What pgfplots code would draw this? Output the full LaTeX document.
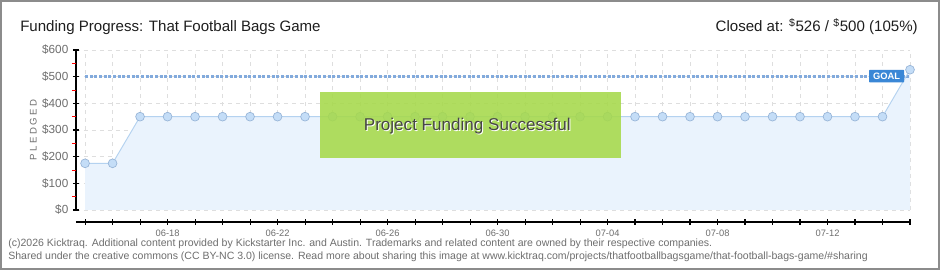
\documentclass[border=0pt]{standalone}
\usepackage{pgfplots}
\pgfplotsset{compat=1.18}
\usepackage{fontspec}
\setmainfont{Liberation Sans}
\definecolor{areafill}{RGB}{234,243,253}
\definecolor{linecol}{RGB}{180,210,240}
\definecolor{markfill}{RGB}{196,221,247}
\definecolor{markdraw}{RGB}{150,180,215}
\definecolor{goalcol}{RGB}{130,170,220}
\definecolor{goalbox}{RGB}{58,135,214}
\definecolor{greenbox}{RGB}{166,217,74}
\definecolor{gridcol}{RGB}{222,222,222}
\definecolor{labgray}{RGB}{110,110,110}
\definecolor{framegray}{RGB}{140,140,140}
\begin{document}
\begin{tikzpicture}[x=1pt,y=1pt]
\useasboundingbox (0,0) rectangle (705,202.5);
\fill[white] (0,0) rectangle (705,202.5);
\draw[line width=1.2pt, framegray] (0.6,0.6) rectangle (704.4,201.9);
\node[inner sep=0pt, anchor=base west, font=\fontsize{11.3}{13}\selectfont, text={rgb,255:red,30;green,30;blue,30}] at (15,179) {Funding Progress: That Football Bags Game};
\node[inner sep=0pt, anchor=base east, font=\fontsize{11.3}{13}\selectfont, text={rgb,255:red,30;green,30;blue,30}] at (688.5,179) {Closed at: \textsuperscript{\$}526 / \textsuperscript{\$}500 (105\%)};
\node[inner sep=0pt, anchor=base west, font=\fontsize{7.9}{9}\selectfont, text=labgray] at (6,17.6) {(c)2026 Kicktraq. Additional content provided by Kickstarter Inc. and Austin. Trademarks and related content are owned by their respective companies.};
\node[inner sep=0pt, anchor=base west, font=\fontsize{7.9}{9}\selectfont, text=labgray] at (6,7.8) {Shared under the creative commons (CC BY-NC 3.0) license. Read more about sharing this image at www.kicktraq.com/projects/thatfootballbagsgame/that-football-bags-game/\#sharing};
\node[rotate=90, font=\fontsize{7.2}{8}\selectfont\addfontfeature{LetterSpace=25}, text=labgray] at (25,105) {PLEDGED};
\begin{axis}[
  at={(57pt,45pt)}, anchor=south west,
  scale only axis, width=625.5pt, height=120pt,
  xmin=-0.33, xmax=30, ymin=0, ymax=600,
  clip=false, clip marker paths=true,
  axis x line=bottom, axis y line=left,
  axis x line shift=9pt,
  axis line style={line width=0.9pt, -, black},
  xtick={0,...,30},
  xticklabels={,,,06-18,,,,06-22,,,,06-26,,,,06-30,,,,07-04,,,,07-08,,,,07-12,,,},
  ytick={0,100,...,600},
  yticklabels={\$0,\$100,\$200,\$300,\$400,\$500,\$600},
  extra y ticks={50,150,...,550},
  extra y tick labels={},
  extra y tick style={grid=none, tick align=outside, major tick length=3pt, tick style={red, line width=0.7pt}},
  tick align=center,
  major tick length=4.5pt,
  tick style={black, line width=0.8pt},
  grid=major,
  major grid style={dashed, gridcol, line width=0.6pt},
  x tick label style={font=\fontsize{7}{8}\selectfont, text=labgray, yshift=0pt},
  y tick label style={font=\fontsize{8.8}{9}\selectfont, text=labgray},
]
\addplot[fill=areafill, draw=none] coordinates {
(0,175) (1,175) (2,350) (3,350) (4,350) (5,350) (6,350) (7,350) (8,350) (9,350) (10,350)
(11,350) (12,350) (13,350) (14,350) (15,350) (16,350) (17,350) (18,350) (19,350) (20,350)
(21,350) (22,350) (23,350) (24,350) (25,350) (26,350) (27,350) (28,350) (29,350) (30,526)
} \closedcycle;
\addplot[goalcol, line width=2.2pt, dash pattern=on 2.2pt off 1.3pt] coordinates {(0,500) (30,500)};
\addplot[linecol, line width=0.7pt, mark=*, mark size=3.3pt, mark options={fill=markfill, draw=markdraw, line width=0.5pt}] coordinates {
(0,175) (1,175) (2,350) (3,350) (4,350) (5,350) (6,350) (7,350) (8,350) (9,350) (10,350)
(11,350) (12,350) (13,350) (14,350) (15,350) (16,350) (17,350) (18,350) (19,350) (20,350)
(21,350) (22,350) (23,350) (24,350) (25,350) (26,350) (27,350) (28,350) (29,350) (30,526)
};
\fill[greenbox, opacity=0.88] (axis cs:8.55,195) rectangle (axis cs:19.49,442);
\node[font=\fontsize{12.8}{14}\selectfont, text=white] at ([xshift=0.7pt,yshift=-0.7pt]axis cs:13.9,315) {Project Funding Successful};
\node[font=\fontsize{12.8}{14}\selectfont, text={rgb,255:red,70;green,70;blue,70}] at (axis cs:13.9,315) {Project Funding Successful};
\node[fill=goalbox, text=white, font=\fontsize{7}{7}\selectfont\bfseries, inner xsep=3pt, inner ysep=2.2pt, rounded corners=0.5pt] at (axis cs:29.15,502) {GOAL};
\end{axis}
\end{tikzpicture}
\end{document}
